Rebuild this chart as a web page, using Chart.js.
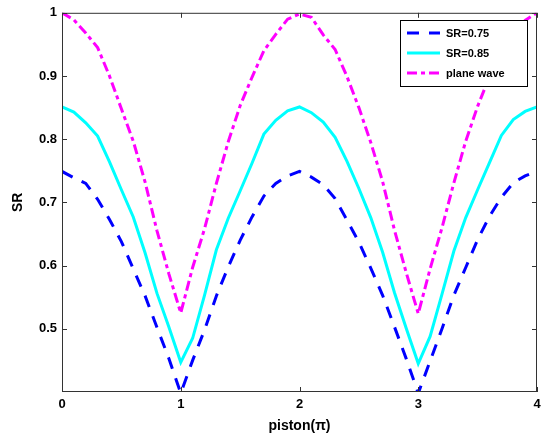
<!DOCTYPE html>
<html>
<head>
<meta charset="utf-8">
<script src="https://cdn.jsdelivr.net/npm/chart.js@4/dist/chart.umd.min.js"></script>
<style>
  html, body { margin: 0; padding: 0; background: #fff; }
  #wrap { width: 543px; height: 439px; }
</style>
</head>
<body>
<div id="wrap"><canvas id="c" width="543" height="439"></canvas></div>
<script>
const piston = [0, 0.1, 0.2, 0.3, 0.4, 0.5, 0.6, 0.7, 0.8, 0.9, 1, 1.1, 1.2, 1.3, 1.4, 1.5, 1.6, 1.7, 1.8, 1.9, 2,
  2.1, 2.2, 2.3, 2.4, 2.5, 2.6, 2.7, 2.8, 2.9, 3, 3.1, 3.2, 3.3, 3.4, 3.5, 3.6, 3.7, 3.8, 3.9, 4];

const sr075 = [0.749, 0.739, 0.730, 0.705, 0.673, 0.638, 0.595, 0.552, 0.502, 0.453, 0.398, 0.450, 0.498, 0.552, 0.598, 0.640, 0.677, 0.710, 0.730, 0.742, 0.749,
  0.740, 0.728, 0.706, 0.672, 0.637, 0.596, 0.553, 0.503, 0.452, 0.398, 0.449, 0.500, 0.553, 0.597, 0.641, 0.678, 0.708, 0.731, 0.742, 0.749];

const sr085 = [0.851, 0.843, 0.826, 0.805, 0.764, 0.720, 0.677, 0.620, 0.556, 0.503, 0.447, 0.485, 0.553, 0.625, 0.675, 0.718, 0.762, 0.808, 0.830, 0.845, 0.851,
  0.842, 0.827, 0.803, 0.765, 0.722, 0.676, 0.621, 0.557, 0.500, 0.445, 0.488, 0.555, 0.623, 0.676, 0.720, 0.763, 0.806, 0.831, 0.844, 0.851];

const planeWave = [1.0, 0.989, 0.968, 0.945, 0.900, 0.848, 0.797, 0.732, 0.655, 0.587, 0.525, 0.597, 0.658, 0.730, 0.796, 0.853, 0.898, 0.940, 0.966, 0.990, 0.998,
  0.993, 0.965, 0.942, 0.899, 0.850, 0.795, 0.733, 0.656, 0.588, 0.524, 0.595, 0.660, 0.731, 0.797, 0.852, 0.899, 0.941, 0.967, 0.988, 1.0];

const xTicks = [0, 1, 2, 3, 4];
const yTicks = [0.5, 0.6, 0.7, 0.8, 0.9, 1];

const labelFont = { family: 'Liberation Sans, Arial, sans-serif', weight: 'bold', size: 13 };

const toPoints = (ys) => piston.map((x, i) => ({ x, y: ys[i] }));

// box, inward ticks and the boxed legend
const framePlugin = {
  id: 'frame',
  afterDatasetsDraw(chart) {
    const { ctx, chartArea: a, scales } = chart;
    ctx.save();
    ctx.strokeStyle = '#333';
    ctx.lineWidth = 1;
    ctx.strokeRect(a.left + 0.5, a.top + 0.5, a.right - a.left - 1, a.bottom - a.top - 1);
    ctx.beginPath();
    xTicks.forEach((v) => {
      const px = Math.round(scales.x.getPixelForValue(v)) + 0.5;
      ctx.moveTo(px, a.bottom); ctx.lineTo(px, a.bottom - 5);
      ctx.moveTo(px, a.top); ctx.lineTo(px, a.top + 5);
    });
    yTicks.forEach((v) => {
      const py = Math.round(scales.y.getPixelForValue(v)) + 0.5;
      ctx.moveTo(a.left, py); ctx.lineTo(a.left + 5, py);
      ctx.moveTo(a.right, py); ctx.lineTo(a.right - 5, py);
    });
    ctx.stroke();

    // legend
    const bx = 400, by = 20, bw = 127, bh = 66;
    ctx.fillStyle = '#fff';
    ctx.fillRect(bx, by, bw, bh);
    ctx.strokeStyle = '#000';
    ctx.strokeRect(bx + 0.5, by + 0.5, bw, bh);
    chart.data.datasets.forEach((ds, i) => {
      const y = by + 13 + i * 20;
      ctx.beginPath();
      ctx.strokeStyle = ds.borderColor;
      ctx.lineWidth = ds.borderWidth;
      ctx.setLineDash(ds.borderDash || []);
      ctx.moveTo(407, y);
      ctx.lineTo(440, y);
      ctx.stroke();
      ctx.setLineDash([]);
      ctx.fillStyle = '#000';
      ctx.font = 'bold 11px "Liberation Sans", Arial, sans-serif';
      ctx.textBaseline = 'middle';
      ctx.fillText(ds.label, 446, y + 1);
    });
    ctx.restore();
  }
};

new Chart(document.getElementById('c'), {
  type: 'line',
  data: {
    datasets: [
      {
        label: 'SR=0.75',
        data: toPoints(sr075),
        borderColor: '#0000ff',
        borderWidth: 3,
        borderDash: [12, 10],
        pointRadius: 0,
        tension: 0,
        fill: false
      },
      {
        label: 'SR=0.85',
        data: toPoints(sr085),
        borderColor: '#00ffff',
        borderWidth: 3,
        pointRadius: 0,
        tension: 0,
        fill: false
      },
      {
        label: 'plane wave',
        data: toPoints(planeWave),
        borderColor: '#ff00ff',
        borderWidth: 3,
        borderDash: [10, 4, 4, 4],
        pointRadius: 0,
        tension: 0,
        fill: false
      }
    ]
  },
  options: {
    responsive: false,
    animation: false,
    layout: { padding: { top: 10, right: 6, left: 10, bottom: 0 } },
    plugins: {
      legend: { display: false },
      tooltip: { enabled: false }
    },
    scales: {
      x: {
        type: 'linear',
        min: 0,
        max: 4,
        afterBuildTicks: (s) => { s.ticks = xTicks.map((v) => ({ value: v })); },
        afterFit: (s) => { s.height = 47; s.paddingRight = 0; s.paddingLeft = 0; },
        grid: { display: false, drawTicks: false },
        border: { display: false },
        ticks: { color: '#000', font: labelFont, padding: 5, maxRotation: 0 },
        title: { display: true, text: 'piston(π)', color: '#000', font: { ...labelFont, size: 14 }, padding: { top: 2, bottom: 4 } }
      },
      y: {
        min: 0.4,
        max: 1,
        afterBuildTicks: (s) => { s.ticks = yTicks.map((v) => ({ value: v })); },
        afterFit: (s) => { s.width = 52; },
        grid: { display: false, drawTicks: false },
        border: { display: false },
        ticks: { color: '#000', font: labelFont, padding: 5, callback: (v) => String(v) },
        title: { display: true, text: 'SR', color: '#000', font: { ...labelFont, size: 14 }, padding: { top: 0, bottom: 6 } }
      }
    }
  },
  plugins: [framePlugin]
});
</script>
</body>
</html>
